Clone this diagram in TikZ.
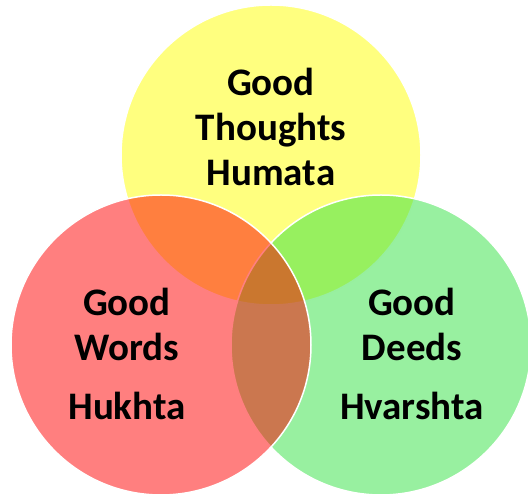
\documentclass[tikz,border=0pt]{standalone}
\usepackage{fontspec}
\setmainfont{Carlito}
\usetikzlibrary{positioning}
\definecolor{ThoughtYellow}{RGB}{255,255,0}
\definecolor{WordRed}{RGB}{255,0,0}
\definecolor{DeedGreen}{RGB}{49,225,65}

\tikzset{
  virtue/.style={circle, minimum size=300pt, inner sep=0pt,
    draw=white, line width=1.5pt, fill opacity=0.5},
  label text/.style={font=\fontsize{39}{45}\selectfont\bfseries,
    align=center, text=black, inner sep=0pt}
}

\begin{document}
\begin{tikzpicture}[x=1pt, y=1pt]
    \useasboundingbox (0,0) rectangle (528,495);
    \begin{scope}
      \clip (0,0) rectangle (528,495);
      % the three circles, back to front
      \node[virtue, fill=ThoughtYellow] (thoughts) at (271,340) {};
      \node[virtue, fill=DeedGreen] (deeds) at (381,150) {};
      \node[virtue, fill=WordRed] (words) at (161,150) {};
    \end{scope}

    \node[label text] (thoughtsText) at (271,368) {Good\\Thoughts\\Humata};
    \node[label text] (wordsText) at (127,141) {Good\\Words\\[14pt]Hukhta};
    \node[label text] (deedsText) at (412,141) {Good\\Deeds\\[14pt]Hvarshta};
  \end{tikzpicture}
\end{document}
